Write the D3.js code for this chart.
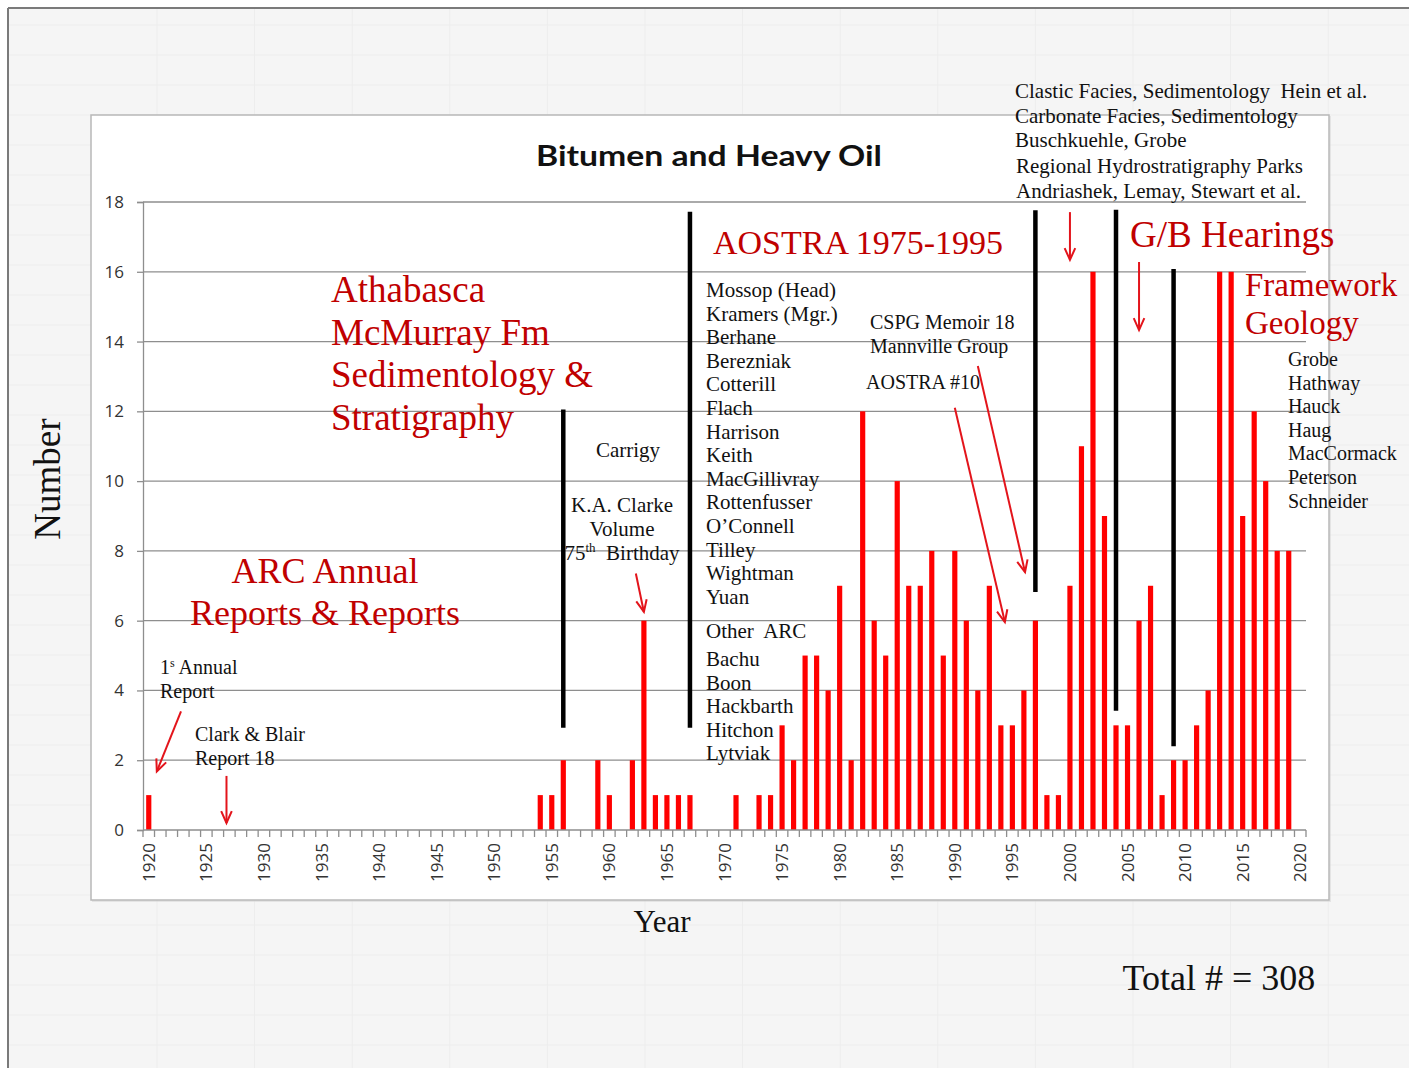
<!DOCTYPE html>
<html><head><meta charset="utf-8">
<script src="https://cdn.jsdelivr.net/npm/d3@7"></script>
<style>
body{margin:0;background:#fff;}
svg{display:block;}
text{white-space:pre;}
</style>
</head><body>
<svg id="c" width="1409" height="1068"></svg>
<script>
// ---------------- data ----------------
const startYear = 1920;
// publications per year, 1920 ... 2020
const counts = [
  1, 0, 0, 0, 0, 0, 0, 0, 0, 0,        // 1920-1929
  0, 0, 0, 0, 0, 0, 0, 0, 0, 0,        // 1930-1939
  0, 0, 0, 0, 0, 0, 0, 0, 0, 0,        // 1940-1949
  0, 0, 0, 0, 1, 1, 2, 0, 0, 2,        // 1950-1959
  1, 0, 2, 6, 1, 1, 1, 1, 0, 0,        // 1960-1969
  0, 1, 0, 1, 1, 3, 2, 5, 5, 4,        // 1970-1979
  7, 2, 12, 6, 5, 10, 7, 7, 8, 5,      // 1980-1989
  8, 6, 4, 7, 3, 3, 4, 6, 1, 1,        // 1990-1999
  7, 11, 16, 9, 3, 3, 6, 7, 1, 2,      // 2000-2009
  2, 3, 4, 16, 16, 9, 12, 10, 8, 8,    // 2010-2019
  0                                    // 2020
];
const years = counts.map((_, i) => startYear + i);
const yTickValues = [0, 2, 4, 6, 8, 10, 12, 14, 16, 18];
const xTickLabels = [1920, 1925, 1930, 1935, 1940, 1945, 1950, 1955, 1960, 1965, 1970,
                     1975, 1980, 1985, 1990, 1995, 2000, 2005, 2010, 2015, 2020];

// black era divider lines: year, top value, bottom value
const dividerYears = [1956, 1967, 1997, 2004, 2009];
const dividerTops = [12.05, 17.72, 17.76, 17.78, 16.08];
const dividerBottoms = [2.93, 2.93, 6.82, 3.42, 2.40];

// red arrows in data units: [yearFrom, valueFrom, yearTo, valueTo]
const arrowSpecs = [
  [1922.8, 3.40, 1920.7, 1.68],
  [1926.75, 1.55, 1926.75, 0.20],
  [1962.3, 7.35, 1963.0, 6.25],
  [1990.0, 12.10, 1994.35, 5.96],
  [1992.0, 13.30, 1996.1, 7.39],
  [2000.0, 17.71, 2000.0, 16.34],
  [2006.0, 16.28, 2006.0, 14.33]
];

const title = "Bitumen and Heavy Oil";
const yTitle = "Number";
const xTitle = "Year";
const totalText = "Total # = 308";

// ---------------- drawing ----------------
const svg = d3.select("#c");
const W = 1409, H = 1068;
const plot = {left: 143, right: 1306, top: 202, bottom: 830};
const SERIF = "'Liberation Serif', 'Times New Roman', serif";
const DARKRED = "#c00000";
const BARRED = "#ff0000";
const ARROWRED = "#e3141b";
const GRID = "#8e8e8e";

// slide background
svg.append("rect").attr("width", W).attr("height", H).attr("fill", "#ffffff");
svg.append("rect").attr("x", 8).attr("y", 8).attr("width", W - 8).attr("height", H - 8).attr("fill", "#f5f5f5");
// very faint background grid of the slide template
const bgG = svg.append("g").attr("stroke", "#ededed").attr("stroke-width", 1);
for (let gx = 157; gx < W; gx += 97.6) bgG.append("line").attr("x1", gx).attr("x2", gx).attr("y1", 8).attr("y2", H);
for (let gy = 25; gy < H; gy += 30) bgG.append("line").attr("x1", 8).attr("x2", W).attr("y1", gy).attr("y2", gy);
svg.append("line").attr("x1", 8).attr("x2", W).attr("y1", 8).attr("y2", 8).attr("stroke", "#7a7a7a").attr("stroke-width", 2);
svg.append("line").attr("x1", 8).attr("x2", 8).attr("y1", 8).attr("y2", H).attr("stroke", "#7a7a7a").attr("stroke-width", 2);

// chart area box
svg.append("rect").attr("x", 92).attr("y", 116).attr("width", 1239).attr("height", 786)
  .attr("fill", "#d8d8d8").attr("opacity", 0.6);
svg.append("rect").attr("x", 91).attr("y", 115).attr("width", 1238).attr("height", 785)
  .attr("fill", "#ffffff").attr("stroke", "#b8b8b8").attr("stroke-width", 1.5);

// scales
const x = d3.scaleBand().domain(years).range([plot.left, plot.right])
  .paddingInner(0.55).paddingOuter(0.275);
const y = d3.scaleLinear().domain([0, 18]).range([plot.bottom, plot.top]);
const step = x.step(), bw = x.bandwidth();
const xc = yr => x(yr) + bw / 2;
const xAt = yf => xc(startYear) + (yf - startYear) * step;

// title
svg.append("text").attr("x", 709).attr("y", 166).attr("text-anchor", "middle")
  .attr("font-family", "Lato, 'Open Sans', sans-serif").attr("font-weight", 700)
  .attr("font-size", 29).attr("fill", "#111").attr("textLength", 346)
  .attr("lengthAdjust", "spacingAndGlyphs").text(title);

// gridlines
svg.append("g").selectAll("line").data(yTickValues.filter(v => v > 0)).join("line")
  .attr("x1", plot.left).attr("x2", plot.right)
  .attr("y1", d => y(d)).attr("y2", d => y(d))
  .attr("stroke", GRID).attr("stroke-width", 1.3);

// y axis
const yAxis = svg.append("g").attr("transform", `translate(${plot.left},0)`)
  .call(d3.axisLeft(y).tickValues(yTickValues).tickSize(6).tickPadding(13).tickFormat(d3.format("d")));
yAxis.select(".domain").attr("stroke", GRID).attr("stroke-width", 1.3);
yAxis.selectAll(".tick line").attr("stroke", GRID).attr("stroke-width", 1.3);
yAxis.selectAll("text").attr("font-family", "'Open Sans', sans-serif").attr("font-size", 17).attr("fill", "#333");

// bars
svg.append("g").selectAll("rect").data(years.map((yr, i) => ({yr, v: counts[i]})).filter(d => d.v > 0))
  .join("rect")
  .attr("x", d => x(d.yr)).attr("width", bw)
  .attr("y", d => y(d.v)).attr("height", d => y(0) - y(d.v))
  .attr("fill", BARRED);

// x axis line + category boundary ticks
svg.append("line").attr("x1", plot.left).attr("x2", plot.right).attr("y1", y(0)).attr("y2", y(0))
  .attr("stroke", GRID).attr("stroke-width", 1.3);
svg.append("g").selectAll("line").data(d3.range(years.length + 1)).join("line")
  .attr("x1", i => plot.left + i * step).attr("x2", i => plot.left + i * step)
  .attr("y1", y(0)).attr("y2", y(0) + 7)
  .attr("stroke", GRID).attr("stroke-width", 1.3);

// x tick labels (rotated)
const xAxis = svg.append("g").attr("transform", `translate(0,${y(0)})`)
  .call(d3.axisBottom(x).tickValues(xTickLabels).tickSize(0).tickPadding(0));
xAxis.select(".domain").remove();
xAxis.selectAll("text")
  .attr("font-family", "'Open Sans', sans-serif").attr("font-size", 17).attr("fill", "#333")
  .attr("text-anchor", "end").attr("transform", "translate(0,13) rotate(-90)")
  .attr("x", 0).attr("y", 0).attr("dy", "0.36em");

// black dividers
svg.append("g").selectAll("line").data(dividerYears).join("line")
  .attr("x1", d => xc(d)).attr("x2", d => xc(d))
  .attr("y1", (d, i) => y(dividerTops[i])).attr("y2", (d, i) => y(dividerBottoms[i]))
  .attr("stroke", "#000").attr("stroke-width", 4.5);

// arrows
const arrowG = svg.append("g").attr("stroke", ARROWRED).attr("stroke-width", 2).attr("fill", "none");
arrowSpecs.forEach(a => {
  const x1 = xAt(a[0]), y1 = y(a[1]), x2 = xAt(a[2]), y2 = y(a[3]);
  arrowG.append("line").attr("x1", x1).attr("y1", y1).attr("x2", x2).attr("y2", y2);
  const ang = Math.atan2(y2 - y1, x2 - x1), L = 13, sp = 0.42;
  arrowG.append("path").attr("d",
    `M${x2 - L * Math.cos(ang - sp)},${y2 - L * Math.sin(ang - sp)} L${x2},${y2} L${x2 - L * Math.cos(ang + sp)},${y2 - L * Math.sin(ang + sp)}`);
});

// ---------------- text annotations ----------------
function txt(xp, yp, s, size, color, anchor) {
  return svg.append("text").attr("x", xp).attr("y", yp).attr("font-family", SERIF)
    .attr("font-size", size).attr("fill", color || "#111").attr("text-anchor", anchor || "start").text(s);
}
function lines(xp, y0, dy, arr, size, color, anchor) {
  arr.forEach((s, i) => txt(xp, y0 + i * dy, s, size, color, anchor));
}

// axis titles
svg.append("text").attr("transform", "translate(60,479) rotate(-90)").attr("text-anchor", "middle")
  .attr("font-family", SERIF).attr("font-size", 37).attr("fill", "#111").text(yTitle);
txt(662, 932, xTitle, 31, "#111", "middle");
txt(1219, 990, totalText, 36, "#111", "middle");

// red headings
lines(331, 302, 42.5, ["Athabasca", "McMurray Fm", "Sedimentology &", "Stratigraphy"], 37, DARKRED);
lines(325, 583, 42, ["ARC Annual", "Reports & Reports"], 36, DARKRED, "middle");
txt(858, 254, "AOSTRA 1975-1995", 34, DARKRED, "middle");
txt(1130, 247, "G/B Hearings", 37, DARKRED);
lines(1245, 296, 38, ["Framework", "Geology"], 33, DARKRED);

// black notes
const s1 = txt(160, 674, "1", 20);
s1.append("tspan").attr("font-size", 12).attr("dy", -7).text("s");
s1.append("tspan").attr("dy", 7).text(" Annual");
txt(160, 698, "Report", 20);
lines(195, 741, 23.5, ["Clark & Blair", "Report 18"], 20);

txt(628, 457, "Carrigy", 21, "#111", "middle");
lines(622, 512, 24, ["K.A. Clarke", "Volume"], 21, "#111", "middle");
const b75 = txt(622, 560, "75", 21, "#111", "middle");
b75.append("tspan").attr("font-size", 13).attr("dy", -8).text("th");
b75.append("tspan").attr("dy", 8).text("  Birthday");

lines(706, 297, 23.6, ["Mossop (Head)", "Kramers (Mgr.)", "Berhane", "Berezniak", "Cotterill", "Flach",
  "Harrison", "Keith", "MacGillivray", "Rottenfusser", "O\u2019Connell", "Tilley", "Wightman", "Yuan"], 21);
txt(706, 638, "Other  ARC", 21);
lines(706, 666, 23.6, ["Bachu", "Boon", "Hackbarth", "Hitchon", "Lytviak"], 21);

lines(870, 329, 24, ["CSPG Memoir 18", "Mannville Group"], 20);
txt(866, 389, "AOSTRA #10", 20);

lines(1015, 98, 24.5, ["Clastic Facies, Sedimentology  Hein et al.", "Carbonate Facies, Sedimentology", "Buschkuehle, Grobe"], 21);
lines(1016, 173, 24.5, ["Regional Hydrostratigraphy Parks", "Andriashek, Lemay, Stewart et al."], 21);

lines(1288, 366, 23.6, ["Grobe", "Hathway", "Hauck", "Haug", "MacCormack", "Peterson", "Schneider"], 20);
</script>
</body></html>
